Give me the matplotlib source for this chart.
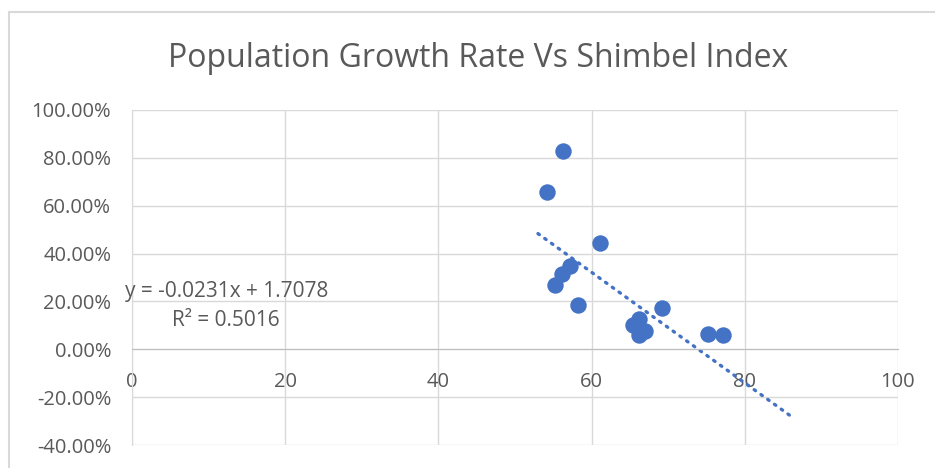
"""Population Growth Rate vs Shimbel Index scatter with linear trendline."""

import matplotlib.pyplot as plt
import numpy as np
from matplotlib.patches import Rectangle
from matplotlib.ticker import FuncFormatter

# data
shimbel_index = [56.3, 54.2, 61.1, 57.2, 56.1, 55.2, 58.2, 69.2, 65.4, 66.2, 67.0, 66.2, 75.2, 77.2]
growth_rate = [0.827, 0.659, 0.443, 0.347, 0.313, 0.267, 0.184, 0.171, 0.101, 0.128, 0.078, 0.059, 0.063, 0.060]

# trendline shown in the chart
slope = -0.0231
intercept = 1.7078
r_squared = 0.5016
trend_x = [53.0, 86.5]

x_ticks = [0, 20, 40, 60, 80, 100]
y_ticks = [-0.4, -0.2, 0.0, 0.2, 0.4, 0.6, 0.8, 1.0]

BLUE = "#4472C4"
GRID = "#D9D9D9"
TEXT = "#595959"

plt.rcParams["font.family"] = ["Open Sans", "DejaVu Sans"]

fig = plt.figure(figsize=(9.35, 4.68), dpi=100)
ax = fig.add_axes([0.1412, 0.049, 0.8192, 0.716])

# chart border (runs off the right and bottom edges)
fig.patches.append(Rectangle((0.0091, -0.1), 1.2, 1.0754, transform=fig.transFigure,
                             fill=False, edgecolor=GRID, linewidth=1.5))

ax.scatter(shimbel_index, growth_rate, s=140, color=BLUE, zorder=3, linewidths=0)

tx = np.array(trend_x)
ax.plot(tx, slope * tx + intercept, color=BLUE, linestyle=(0, (0.5, 2.0)),
        linewidth=2.4, dash_capstyle="round", zorder=2)

ax.set_xlim(0, 100)
ax.set_ylim(-0.4, 1.0)
ax.set_xticks(x_ticks)
ax.set_yticks(y_ticks)
ax.yaxis.set_major_formatter(FuncFormatter(lambda v, _: f"{v * 100:.2f}%"))
ax.grid(True, color=GRID, linewidth=1.0)
ax.set_axisbelow(True)

# axes cross at zero, like Excel
ax.spines["bottom"].set_position(("data", 0))
ax.spines["bottom"].set_color("#BFBFBF")
ax.spines["left"].set_color(GRID)
for s in ("top", "right"):
    ax.spines[s].set_visible(False)
ax.tick_params(axis="both", length=0, labelsize=14.5, labelcolor=TEXT)
ax.tick_params(axis="x", pad=16)
ax.tick_params(axis="y", pad=15)

ax.text(12.3, 0.242, f"y = {slope:.4f}x + {intercept:.4f}", ha="center", va="center",
        fontsize=15, color=TEXT)
ax.text(12.3, 0.121, f"R² = {r_squared:.4f}", ha="center", va="center",
        fontsize=15, color=TEXT)

fig.text(0.511, 0.874, "Population Growth Rate Vs Shimbel Index", ha="center", va="center",
         fontsize=23, color=TEXT)

fig.savefig("out.png", dpi=100)
